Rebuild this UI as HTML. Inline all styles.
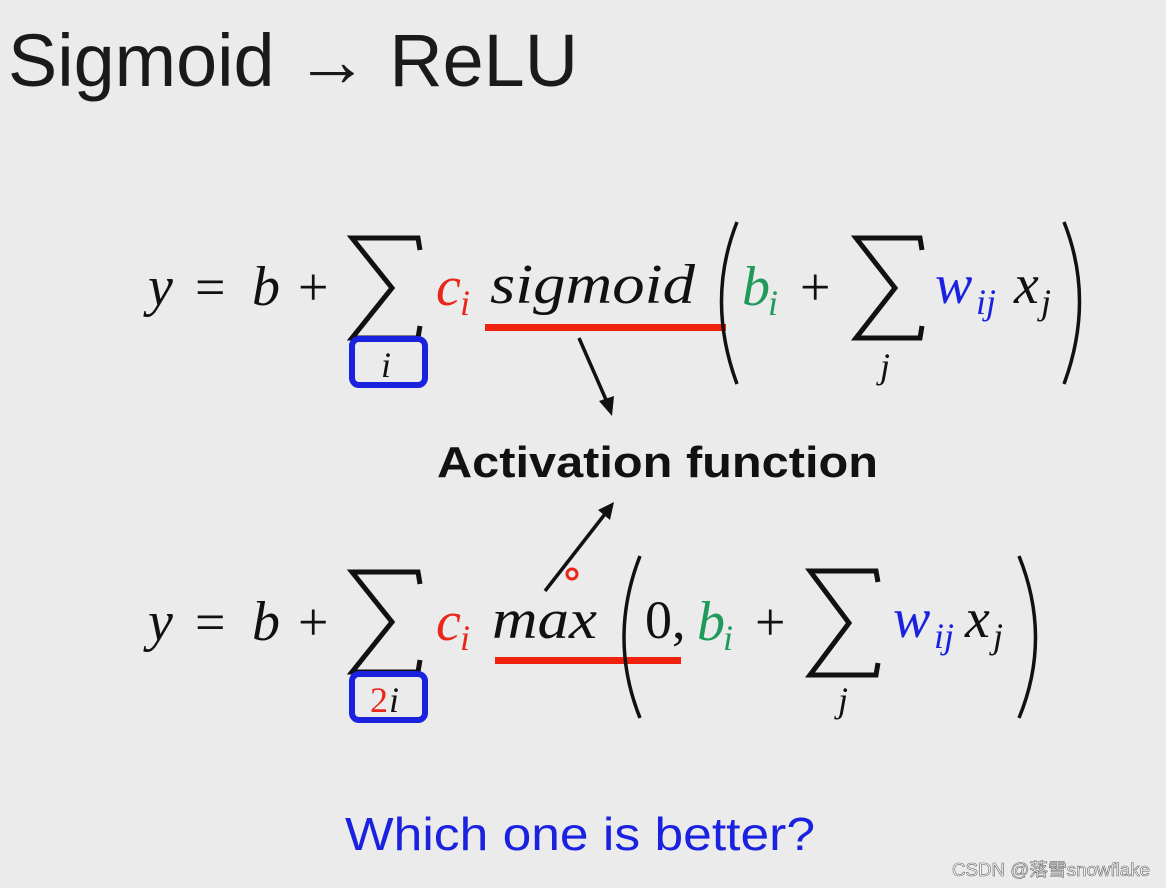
<!DOCTYPE html>
<html><head><meta charset="utf-8"><style>
html,body{margin:0;padding:0;background:#ebebeb;}
svg{display:block}
.m{font-family:"Liberation Serif",serif;font-style:italic;font-size:56px;fill:#111}
.s{font-family:"Liberation Serif",serif;font-style:italic;font-size:36px}
.u{font-family:"Liberation Serif",serif;font-size:54px;fill:#111}
</style></head><body>
<svg width="1166" height="888" viewBox="0 0 1166 888" xmlns="http://www.w3.org/2000/svg">
<rect width="1166" height="888" fill="#ebebeb"/>
<text x="8" y="86" font-family="Liberation Sans,sans-serif" font-size="74" fill="#1a1a1a" textLength="570" lengthAdjust="spacingAndGlyphs">Sigmoid → ReLU</text>

<!-- formula 1 -->
<text x="148" y="305" class="m">y</text>
<text x="195" y="305" class="u">=</text>
<text x="252" y="305" class="m">b</text>
<text x="298" y="305" class="u">+</text>
<polyline points="420,250 418,238 352,238 392,288 352,338 418,338 420,326" fill="none" stroke="#111" stroke-width="5"/>
<rect x="352" y="339" width="73" height="46" rx="7" fill="none" stroke="#1a22e0" stroke-width="6"/>
<text x="381" y="377" class="s" fill="#111">i</text>
<text x="436" y="305" class="m" style="fill:#e8261a">c</text>
<text x="460" y="315" class="s" fill="#e8261a">i</text>
<text x="490" y="303" class="m" textLength="205" lengthAdjust="spacingAndGlyphs">sigmoid</text>
<rect x="485" y="324" width="241" height="7" fill="#f0220f"/>
<path d="M737,222 Q706,300 737,384" fill="none" stroke="#111" stroke-width="3.5"/>
<text x="742" y="305" class="m" style="fill:#1e9a5a">b</text>
<text x="768" y="315" class="s" fill="#1e9a5a">i</text>
<text x="800" y="305" class="u">+</text>
<polyline points="922,250 920,238 856,238 895,288 856,338 920,338 922,326" fill="none" stroke="#111" stroke-width="5"/>
<text x="880" y="378" class="s" fill="#111">j</text>
<text x="935" y="303" class="m" style="fill:#1a22e0">w</text>
<text x="976" y="314" class="s" fill="#1a22e0">ij</text>
<text x="1014" y="303" class="m">x</text>
<text x="1041" y="314" class="s" fill="#111">j</text>
<path d="M1064,222 Q1095,300 1064,384" fill="none" stroke="#111" stroke-width="3.5"/>

<line x1="579" y1="338" x2="607" y2="402" stroke="#111" stroke-width="3.5"/>
<polygon points="612,416 599,401 614,396" fill="#111"/>
<text x="437" y="477" font-family="Liberation Sans,sans-serif" font-weight="bold" font-size="44" fill="#111" textLength="441" lengthAdjust="spacingAndGlyphs">Activation function</text>
<line x1="545" y1="591" x2="605" y2="514" stroke="#111" stroke-width="3.5"/>
<polygon points="614,502 598,510 610,520" fill="#111"/>
<circle cx="572" cy="574" r="5" fill="none" stroke="#e8261a" stroke-width="3"/>

<!-- formula 2 -->
<text x="148" y="640" class="m">y</text>
<text x="195" y="640" class="u">=</text>
<text x="252" y="640" class="m">b</text>
<text x="298" y="640" class="u">+</text>
<polyline points="420,584 418,572 352,572 392,622 352,672 418,672 420,660" fill="none" stroke="#111" stroke-width="5"/>
<rect x="352" y="674" width="73" height="46" rx="7" fill="none" stroke="#1a22e0" stroke-width="6"/>
<text x="370" y="712" class="s" style="font-style:normal" fill="#e8261a">2</text><text x="389" y="712" class="s" fill="#111">i</text>
<text x="436" y="640" class="m" style="fill:#e8261a">c</text>
<text x="460" y="650" class="s" fill="#e8261a">i</text>
<text x="492" y="638" class="m" textLength="105" lengthAdjust="spacingAndGlyphs">max</text>
<rect x="495" y="657" width="186" height="7" fill="#f0220f"/>
<path d="M640,556 Q608,638 640,718" fill="none" stroke="#111" stroke-width="3.5"/>
<text x="645" y="638" class="u">0,</text>
<text x="697" y="640" class="m" style="fill:#1e9a5a">b</text>
<text x="723" y="650" class="s" fill="#1e9a5a">i</text>
<text x="755" y="640" class="u">+</text>
<polyline points="878,582 876,571 810,571 849,623 810,675 876,675 878,663" fill="none" stroke="#111" stroke-width="5"/>
<text x="838" y="712" class="s" fill="#111">j</text>
<text x="893" y="637" class="m" style="fill:#1a22e0">w</text>
<text x="934" y="648" class="s" fill="#1a22e0">ij</text>
<text x="965" y="637" class="m">x</text>
<text x="993" y="648" class="s" fill="#111">j</text>
<path d="M1019,556 Q1052,638 1019,718" fill="none" stroke="#111" stroke-width="3.5"/>

<text x="345" y="850" font-family="Liberation Sans,sans-serif" font-size="46" fill="#1a22e0" textLength="470" lengthAdjust="spacingAndGlyphs">Which one is better?</text>
<text x="952" y="876" font-family="Liberation Sans,'Noto Sans CJK SC',sans-serif" font-size="18" fill="#fff" stroke="#666" stroke-width="0.6" textLength="198" lengthAdjust="spacingAndGlyphs">CSDN @落雪snowflake</text>
</svg>
</body></html>
